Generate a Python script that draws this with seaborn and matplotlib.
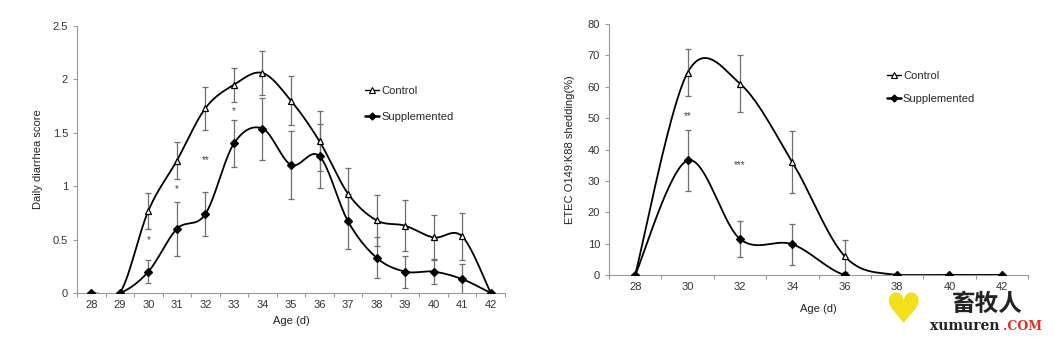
import numpy as np
import matplotlib
matplotlib.use("Agg")
import matplotlib.pyplot as plt
import seaborn as sns
from matplotlib.lines import Line2D

# ---------------- data ----------------
ages_left = ["28", "29", "30", "31", "32", "33", "34", "35", "36", "37", "38", "39", "40", "41", "42"]
score_control = [0, 0, 0.77, 1.24, 1.73, 1.95, 2.06, 1.80, 1.42, 0.93, 0.68, 0.63, 0.52, 0.53, 0]
score_control_err = [0, 0, 0.17, 0.17, 0.20, 0.16, 0.21, 0.23, 0.28, 0.24, 0.24, 0.24, 0.21, 0.22, 0]
score_supp = [0, 0, 0.20, 0.60, 0.74, 1.40, 1.54, 1.20, 1.28, 0.67, 0.33, 0.20, 0.20, 0.13, 0]
score_supp_err = [0, 0, 0.11, 0.25, 0.21, 0.22, 0.29, 0.32, 0.30, 0.26, 0.19, 0.15, 0.12, 0.14, 0]
stars_left_pos = ["30", "31", "32", "33"]
stars_left_txt = ["*", "*", "**", "*"]
stars_left_y = [0.50, 0.97, 1.24, 1.70]

ages_right = ["28", "30", "32", "34", "36", "38", "40", "42"]
shed_control = [0, 64.5, 61, 36, 6, 0, 0, 0]
shed_control_err = [0, 7.5, 9, 10, 5, 0, 0, 0]
shed_supp = [0, 36.5, 11.5, 9.8, 0, 0, 0, 0]
shed_supp_err = [0, 9.7, 5.8, 6.5, 0, 0, 0, 0]
stars_right_pos = ["30", "32"]
stars_right_txt = ["**", "***"]
stars_right_y = [50.5, 35.0]

# ---------------- style ----------------
sns.set_style("ticks")
plt.rcParams["font.family"] = ["Liberation Sans", "DejaVu Sans"]
plt.rcParams["axes.edgecolor"] = "#9a9a9a"
plt.rcParams["xtick.color"] = "#9a9a9a"
plt.rcParams["ytick.color"] = "#9a9a9a"
plt.rcParams["xtick.labelcolor"] = "#333333"
plt.rcParams["ytick.labelcolor"] = "#333333"


def smooth(x, y, n=40):
    """Excel-like smoothed line (Catmull-Rom / cubic Bezier with 1/6 tension)."""
    p = np.column_stack([np.asarray(x, float), np.asarray(y, float)])
    pp = np.vstack([p[0], p, p[-1]])
    out = []
    t = np.linspace(0, 1, n)[:, None]
    for i in range(len(p) - 1):
        p0, p1, p2, p3 = pp[i], pp[i + 1], pp[i + 2], pp[i + 3]
        c1 = p1 + (p2 - p0) / 6.0
        c2 = p2 - (p3 - p1) / 6.0
        b = ((1 - t) ** 3) * p1 + 3 * ((1 - t) ** 2) * t * c1 + 3 * (1 - t) * t ** 2 * c2 + t ** 3 * p2
        out.append(b if i == 0 else b[1:])
    b = np.vstack(out)
    return b[:, 0], b[:, 1]


def draw(ax, cats, ctrl, ctrl_err, supp, supp_err):
    x = np.arange(len(cats))
    for vals, err, mk, fc in [(ctrl, ctrl_err, "^", "white"), (supp, supp_err, "D", "black")]:
        sx, sy = smooth(x, vals)
        sns.lineplot(x=sx, y=sy, ax=ax, color="black", lw=1.3, sort=False, estimator=None)
        e = np.asarray(err, float)
        mask = e > 0
        ax.errorbar(x[mask], np.asarray(vals)[mask], yerr=e[mask], fmt="none",
                    ecolor="#6e6e6e", elinewidth=0.9, capsize=2.2, capthick=0.9, zorder=2)
        ms = 5.0 if mk == "^" else 3.8
        ax.plot(x, vals, linestyle="none", marker=mk, ms=ms, mfc=fc, mec="black", mew=0.9, zorder=4)
    ax.set_xlim(-0.5, len(cats) - 0.5)
    ax.set_xticks(x)
    ax.set_xticklabels(cats)
    ax.set_xticks(np.arange(-0.5, len(cats), 1.0), minor=True)
    ax.tick_params(axis="x", which="major", length=0, labelsize=8, pad=5)
    ax.tick_params(axis="x", which="minor", length=3, width=0.8)
    ax.tick_params(axis="y", length=3, width=0.8, labelsize=8)
    sns.despine(ax=ax)
    ax.spines["left"].set_linewidth(0.8)
    ax.spines["bottom"].set_linewidth(0.8)


def legend(ax, x0, y0, y1):
    h1 = Line2D([], [], color="black", lw=1.0, marker="^", ms=4.5, mfc="white", mec="black", mew=0.8)
    h2 = Line2D([], [], color="black", lw=1.8, marker="D", ms=3.5, mfc="black", mec="black")
    ax.legend([h1], ["Control"], loc="center left", bbox_to_anchor=(x0, y0), frameon=False,
              fontsize=8, handlelength=1.3, handletextpad=0.15, borderpad=0, borderaxespad=0)
    leg1 = ax.get_legend()
    ax.add_artist(leg1)
    ax.legend([h2], ["Supplemented"], loc="center left", bbox_to_anchor=(x0, y1), frameon=False,
              fontsize=8, handlelength=1.3, handletextpad=0.15, borderpad=0, borderaxespad=0)


fig = plt.figure(figsize=(10.55, 3.37), dpi=100)
axL = fig.add_axes([77 / 1055, 1 - 293 / 337, 428 / 1055, 267 / 337])
axR = fig.add_axes([609 / 1055, 1 - 275 / 337, 419 / 1055, 251 / 337])

# Left chart
draw(axL, ages_left, score_control, score_control_err, score_supp, score_supp_err)
axL.set_ylim(0, 2.5)
axL.set_yticks([0, 0.5, 1, 1.5, 2, 2.5])
axL.set_yticklabels(["0", "0.5", "1", "1.5", "2", "2.5"])
axL.set_ylabel("Daily diarrhea score", fontsize=8, color="#222222", labelpad=7)
axL.set_xlabel("Age (d)", fontsize=8, color="#222222", labelpad=4)
for c, t, yv in zip(stars_left_pos, stars_left_txt, stars_left_y):
    axL.text(ages_left.index(c), yv, t, ha="center", va="center", fontsize=7, color="#444444")
legend(axL, 0.673, 0.757, 0.659)

# Right chart
draw(axR, ages_right, shed_control, shed_control_err, shed_supp, shed_supp_err)
axR.set_ylim(0, 80)
axR.set_yticks(np.arange(0, 81, 10))
axR.set_ylabel("ETEC O149:K88 shedding(%)", fontsize=8, color="#222222", labelpad=9)
axR.set_xlabel("Age (d)", fontsize=8, color="#222222", labelpad=9)
for c, t, yv in zip(stars_right_pos, stars_right_txt, stars_right_y):
    axR.text(ages_right.index(c), yv, t, ha="center", va="center", fontsize=7, color="#444444")
legend(axR, 0.663, 0.793, 0.701)

# Watermark
fig.text(903 / 1055, 1 - 311 / 337, "\u2665", fontsize=30, color="#f2e01e", ha="center", va="center",
         family=["DejaVu Sans"])
fig.text(987 / 1055, 1 - 304 / 337, "畜牧人", fontsize=17, fontweight="bold", color="#222222",
         ha="center", va="center", family=["Noto Sans CJK SC", "DejaVu Sans"])
fig.text(930 / 1055, 1 - 326 / 337, "xumuren", fontsize=10, fontweight="bold", color="#222222",
         ha="left", va="center", family=["DejaVu Serif"])
fig.text(1003 / 1055, 1 - 326 / 337, ".COM", fontsize=9, fontweight="bold", color="#e0302a",
         ha="left", va="center", family=["DejaVu Serif"])

fig.savefig("out.png", dpi=100)
